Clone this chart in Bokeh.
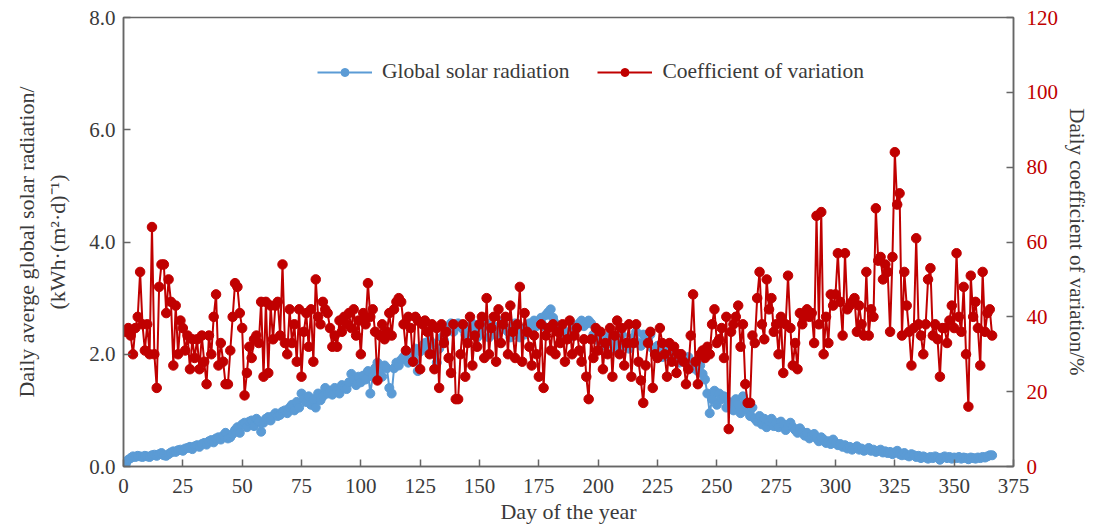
from bokeh.plotting import figure
from bokeh.models import Range1d, LinearAxis, Legend, LegendItem, FixedTicker, NumeralTickFormatter
from bokeh.embed import file_html
from bokeh.resources import INLINE

days = list(range(1, 367))

cv = [
    36, 37, 35, 30, 37, 40, 52, 38, 31, 38,
    30, 64, 30, 21, 48, 54, 54, 41, 50, 44,
    27, 43, 30, 39, 37, 31, 35, 26, 34, 29,
    34, 26, 35, 28, 22, 35, 30, 40, 46, 27,
    33, 28, 22, 22, 31, 40, 49, 48, 41, 37,
    19, 25, 32, 29, 34, 35, 33, 44, 24, 44,
    25, 43, 34, 43, 44, 35, 54, 33, 30, 42,
    33, 38, 28, 42, 24, 36, 41, 32, 42, 28,
    50, 40, 38, 44, 42, 41, 37, 32, 35, 32,
    39, 36, 40, 38, 41, 37, 42, 35, 39, 30,
    41, 38, 49, 40, 42, 36, 23, 35, 38, 34,
    36, 41, 35, 42, 44, 45, 44, 38, 31, 40,
    37, 28, 40, 39, 26, 38, 39, 36, 30, 38,
    26, 37, 21, 38, 33, 36, 29, 25, 38, 18,
    18, 30, 38, 24, 33, 40, 27, 35, 32, 38,
    40, 29, 45, 30, 37, 40, 28, 42, 33, 38,
    40, 30, 43, 36, 29, 38, 48, 28, 41, 36,
    32, 27, 35, 30, 24, 38, 21, 35, 37, 31,
    38, 30, 36, 33, 38, 28, 34, 39, 30, 35,
    37, 31, 28, 34, 24, 18, 34, 29, 37, 31,
    36, 26, 33, 30, 37, 24, 35, 39, 30, 37,
    27, 33, 38, 24, 33, 38, 28, 23, 17, 27,
    33, 36, 21, 30, 29, 37, 33, 30, 24, 33,
    28, 32, 25, 30, 30, 28, 22, 26, 35, 46,
    28, 22, 30, 31, 29, 32, 30, 38, 42, 33,
    34, 37, 29, 40, 10, 36, 38, 40, 43, 32,
    38, 22, 17, 17, 35, 33, 45, 52, 38, 34,
    50, 42, 45, 36, 38, 30, 40, 25, 38, 51,
    37, 27, 33, 26, 41, 38, 40, 42, 40, 41,
    33, 67, 38, 68, 30, 40, 33, 46, 43, 46,
    57, 44, 35, 57, 42, 43, 44, 45, 36, 43,
    38, 35, 52, 35, 42, 40, 69, 55, 56, 50,
    54, 52, 36, 56, 84, 70, 73, 35, 52, 43,
    36, 27, 37, 61, 38, 35, 30, 38, 50, 53,
    35, 38, 34, 24, 37, 37, 33, 39, 43, 37,
    57, 40, 36, 48, 30, 16, 51, 40, 44, 37,
    27, 52, 36, 41, 42, 35,
]

gsr = [
    0.05, 0.12, 0.15, 0.18, 0.17, 0.19, 0.18, 0.17, 0.19, 0.18,
    0.17, 0.20, 0.21, 0.19, 0.22, 0.24, 0.20, 0.19, 0.22, 0.25,
    0.27, 0.26, 0.29, 0.30, 0.28, 0.32, 0.33, 0.35, 0.31, 0.36,
    0.38, 0.35, 0.40, 0.42, 0.39, 0.45, 0.47, 0.43, 0.50, 0.52,
    0.48, 0.55, 0.60, 0.50, 0.52, 0.58, 0.65, 0.70, 0.60, 0.75,
    0.78, 0.70, 0.80, 0.82, 0.72, 0.85, 0.80, 0.62, 0.78, 0.85,
    0.88, 0.82, 0.90, 0.95, 0.90, 0.92, 0.98, 1.00, 0.95, 1.05,
    1.10, 1.00, 1.15, 1.05, 1.30, 1.20, 1.15, 1.25, 1.10, 1.20,
    1.05, 1.30, 1.18, 1.25, 1.40, 1.30, 1.35, 1.28, 1.40, 1.35,
    1.30, 1.45, 1.40, 1.38, 1.50, 1.65, 1.55, 1.45, 1.60, 1.50,
    1.62, 1.55, 1.70, 1.30, 1.60, 1.75, 1.85, 1.70, 1.60, 1.80,
    1.75, 1.40, 1.30, 1.75, 1.85, 1.80, 1.90, 1.95, 2.00, 1.85,
    2.00, 1.95, 2.10, 1.70, 2.05, 2.15, 2.20, 2.10, 2.25, 2.20,
    2.00, 1.85, 2.10, 2.30, 2.25, 2.45, 2.50, 2.55, 2.40, 2.50,
    2.55, 2.50, 2.45, 2.35, 2.30, 2.50, 2.55, 2.40, 2.30, 2.35,
    2.45, 2.50, 2.55, 2.30, 2.40, 2.50, 2.35, 2.45, 2.50, 2.60,
    2.45, 2.40, 2.30, 2.50, 2.55, 2.40, 2.30, 2.45, 2.35, 2.50,
    2.55, 2.45, 2.60, 2.50, 2.55, 2.65, 2.50, 2.70, 2.75, 2.80,
    2.65, 2.55, 2.45, 2.50, 2.30, 2.40, 2.35, 2.30, 2.45, 2.40,
    2.50, 2.55, 2.60, 2.50, 2.55, 2.60, 2.55, 2.35, 2.30, 2.25,
    2.20, 2.30, 2.15, 2.20, 2.35, 2.25, 2.10, 2.30, 2.20, 2.35,
    2.15, 2.20, 2.10, 2.25, 2.30, 2.40, 2.20, 2.15, 2.35, 2.30,
    2.25, 2.35, 2.10, 2.00, 2.15, 2.05, 1.95, 2.10, 2.00, 1.95,
    2.05, 1.90, 1.95, 1.85, 2.00, 1.90, 1.85, 1.95, 1.80, 1.75,
    1.85, 1.70, 1.80, 1.65, 1.55, 1.30, 0.95, 1.20, 1.35, 1.10,
    1.30, 1.20, 1.25, 1.05, 1.15, 1.10, 1.00, 1.20, 1.10, 0.95,
    1.25, 1.05, 1.00, 0.90, 1.05, 0.85, 0.80, 0.90, 0.75, 0.85,
    0.70, 0.80, 0.85, 0.72, 0.78, 0.70, 0.80, 0.75, 0.65, 0.72,
    0.78, 0.70, 0.65, 0.60, 0.68, 0.62, 0.55, 0.60, 0.50, 0.55,
    0.58, 0.50, 0.45, 0.52, 0.48, 0.42, 0.45, 0.40, 0.48, 0.42,
    0.38, 0.40, 0.35, 0.38, 0.32, 0.35, 0.30, 0.33, 0.36, 0.30,
    0.32, 0.28, 0.30, 0.33, 0.28, 0.30, 0.26, 0.28, 0.30, 0.25,
    0.27, 0.24, 0.26, 0.22, 0.25, 0.28, 0.22, 0.20, 0.24, 0.20,
    0.18, 0.22, 0.20, 0.17, 0.19, 0.15, 0.18, 0.16, 0.14, 0.17,
    0.15, 0.18, 0.16, 0.12, 0.16, 0.18, 0.15, 0.17, 0.14, 0.16,
    0.15, 0.17, 0.14, 0.16, 0.15, 0.13, 0.16, 0.15, 0.14, 0.16,
    0.15, 0.17, 0.16, 0.18, 0.20, 0.20,
]

x_ticks = [0, 25, 50, 75, 100, 125, 150, 175, 200, 225, 250, 275, 300, 325, 350, 375]
left_ticks = [0, 2, 4, 6, 8]
right_ticks = [0, 20, 40, 60, 80, 100, 120]

BLUE = "#5b9bd5"
RED = "#c00000"
FONT = "Liberation Serif"
AX = "#666666"
TXT = "#3a3a3a"

p = figure(width=1093, height=528, output_backend="svg", toolbar_location=None,
           x_range=Range1d(0, 375), y_range=Range1d(0, 8),
           min_border_left=123, min_border_right=80, min_border_top=17, min_border_bottom=62)
p.extra_y_ranges = {"cv": Range1d(0, 120)}
p.grid.visible = False
p.outline_line_color = AX
p.outline_line_width = 1.5
p.background_fill_color = "white"

bl = p.line(days, gsr, line_color=BLUE, line_width=2)
bs = p.scatter(days, gsr, size=9, fill_color=BLUE, line_color=BLUE)
rl = p.line(days, cv, line_color=RED, line_width=2, y_range_name="cv")
rs = p.scatter(days, cv, size=9.5, fill_color=RED, line_color=RED, y_range_name="cv")

def style(ax, color=TXT):
    ax.axis_line_color = AX
    ax.axis_line_width = 1.5
    ax.major_tick_line_color = AX
    ax.major_tick_line_width = 1.5
    ax.major_tick_in = 7
    ax.major_tick_out = 0
    ax.minor_tick_line_color = None
    ax.major_label_text_font = FONT
    ax.major_label_text_font_size = "21px"
    ax.major_label_text_color = color
    ax.axis_label_text_font = FONT
    ax.axis_label_text_font_size = "22px"
    ax.axis_label_text_font_style = "normal"
    ax.axis_label_text_color = TXT

xa = p.xaxis[0]
style(xa)
xa.ticker = FixedTicker(ticks=x_ticks)
xa.axis_label = "Day of the year"
xa.major_label_standoff = 12
xa.axis_label_standoff = 3

ya = p.yaxis[0]
style(ya)
ya.ticker = FixedTicker(ticks=left_ticks)
ya.formatter = NumeralTickFormatter(format="0.0")
ya.axis_label = "(kWh\u00b7(m\u00b2\u00b7d)\u207b\u00b9)"
ya.major_label_standoff = 8
ya.axis_label_standoff = 16

ya2 = LinearAxis(ticker=FixedTicker(ticks=[]))
style(ya2)
ya2.axis_line_color = None
ya2.major_tick_line_color = None
ya2.axis_label = "Daily averge global solar radiation/"
ya2.axis_label_standoff = 4
p.add_layout(ya2, "left")

ra = LinearAxis(y_range_name="cv", ticker=FixedTicker(ticks=right_ticks))
style(ra, RED)
ra.axis_label_text_font_size = "21px"
ra.axis_label = "Daily coefficient of variation/%"
ra.major_label_standoff = 13
ra.axis_label_standoff = 4
p.add_layout(ra, "right")

legend = Legend(items=[LegendItem(label="Global solar radiation", renderers=[bl, bs]),
                       LegendItem(label="Coefficient of variation", renderers=[rl, rs])],
                orientation="horizontal", location=(194, 382))
legend.label_text_font = FONT
legend.label_text_font_size = "21.5px"
legend.label_text_color = TXT
legend.label_standoff = 10
legend.glyph_width = 55
legend.spacing = 28
legend.border_line_color = None
legend.background_fill_alpha = 0
p.add_layout(legend, "center")

open("out.html", "w").write(file_html(p, INLINE))
